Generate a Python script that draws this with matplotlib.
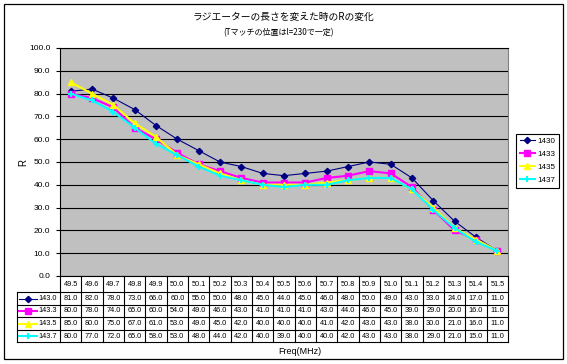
import matplotlib
matplotlib.use("Agg")
import matplotlib.pyplot as plt
from matplotlib.lines import Line2D
from matplotlib.patches import Rectangle
import matplotlib.transforms as mtransforms

plt.rcParams['font.family'] = ['Liberation Sans', 'Noto Sans CJK JP', 'DejaVu Sans']

freqs = ["49.5", "49.6", "49.7", "49.8", "49.9", "50.0", "50.1", "50.2", "50.3", "50.4", "50.5",
         "50.6", "50.7", "50.8", "50.9", "51.0", "51.1", "51.2", "51.3", "51.4", "51.5"]
legend_names = ["1430", "1433", "1435", "1437"]
row_names = ["143.0", "143.3", "143.5", "143.7"]
r_1430 = [81, 82, 78, 73, 66, 60, 55, 50, 48, 45, 44, 45, 46, 48, 50, 49, 43, 33, 24, 17, 11]
r_1433 = [80, 78, 74, 65, 60, 54, 49, 46, 43, 41, 41, 41, 43, 44, 46, 45, 39, 29, 20, 16, 11]
r_1435 = [85, 80, 75, 67, 61, 53, 49, 45, 42, 40, 40, 40, 41, 42, 43, 43, 38, 30, 21, 16, 11]
r_1437 = [80, 77, 72, 65, 58, 53, 48, 44, 42, 40, 39, 40, 40, 42, 43, 43, 38, 29, 21, 15, 11]
series = [r_1430, r_1433, r_1435, r_1437]
colors = ["#000080", "#ff00ff", "#ffff00", "#00ffff"]
markers = ["D", "s", "^", "+"]
msizes = [3.2, 3.8, 4.6, 4.6]
lws = [0.8, 1.5, 1.5, 1.5]

W, H = 567, 364
fig = plt.figure(figsize=(W / 100, H / 100), dpi=100)

def fx(px):
    return px / W

def fy(py):
    return 1 - py / H

# outer border
fig.add_artist(Rectangle((fx(4), fy(359)), fx(559), (355) / H, fill=False,
                         edgecolor="black", linewidth=0.9, transform=fig.transFigure))

L, R, T, B = 60, 508, 48, 276
ax = fig.add_axes([fx(L), fy(B), fx(R - L), (B - T) / H])
ax.set_facecolor("#c0c0c0")
x = list(range(len(freqs)))
for s, c, m, ms, lw, name in zip(series, colors, markers, msizes, lws, legend_names):
    ax.plot(x, s, color=c, marker=m, markersize=ms, linewidth=lw, label=name,
            markeredgewidth=1.0 if m != "+" else 1.5, clip_on=False)
ax.set_xlim(-0.5, len(freqs) - 0.5)
ax.set_ylim(0, 100)
ax.set_yticks(range(0, 101, 10))
ax.set_yticklabels([f"{v:.1f}" for v in range(0, 101, 10)], fontsize=6)
ax.tick_params(axis="y", length=3, width=0.8, pad=4)
ax.set_xticks([])
ax.grid(axis="y", color="black", linewidth=0.8)
ax.set_axisbelow(True)
for side in ["left", "bottom", "top"]:
    ax.spines[side].set_color("black")
    ax.spines[side].set_linewidth(0.8)
ax.spines["right"].set_color("#808080")
ax.spines["right"].set_linewidth(0.8)

ax.set_ylabel("R", fontsize=7, labelpad=8)
ax.yaxis.set_label_coords(-(L - 28) / (R - L), 0.5)

# title
fig.text(fx(284), fy(17), "ラジエーターの長さを変えた時のRの変化", ha="center", va="center",
         fontsize=7, family=['Noto Sans CJK JP', 'DejaVu Sans'])
fig.text(fx(278), fy(33), "(Tマッチの位置はl=230で一定)", ha="center", va="center",
         fontsize=5.8, family=['Noto Sans CJK JP', 'DejaVu Sans'])

# data table below axes
bt = mtransforms.blended_transform_factory(ax.transData, ax.transAxes)
ah = B - T

def ay(py):
    return (B - py) / ah

row_edges = [276, 292, 305, 317, 330, 342]
lc = "black"
lwt = 0.8
# horizontal lines
ax.add_line(Line2D([-0.5, len(freqs) - 0.5], [ay(292), ay(292)], transform=bt, color=lc,
                   linewidth=lwt, clip_on=False))
for ye in row_edges[2:]:
    ax.add_line(Line2D([-0.5, len(freqs) - 0.5], [ay(ye), ay(ye)], transform=bt, color=lc,
                       linewidth=lwt, clip_on=False))
# vertical lines
for i in range(len(freqs) + 1):
    ax.add_line(Line2D([i - 0.5, i - 0.5], [ay(276), ay(342)], transform=bt, color=lc,
                       linewidth=lwt, clip_on=False))
# header column box
fig.add_artist(Line2D([fx(17), fx(L)], [fy(292), fy(292)], color=lc, linewidth=lwt))
for ye in row_edges[2:]:
    fig.add_artist(Line2D([fx(17), fx(L)], [fy(ye), fy(ye)], color=lc, linewidth=lwt))
fig.add_artist(Line2D([fx(17), fx(17)], [fy(292), fy(342)], color=lc, linewidth=lwt))

for i, f in enumerate(freqs):
    ax.text(i, ay(284.5), f, transform=bt, ha="center", va="center", fontsize=5.3, clip_on=False)
for r, s in enumerate(series):
    yc = (row_edges[r + 1] + row_edges[r + 2]) / 2
    for i, v in enumerate(s):
        ax.text(i, ay(yc), f"{v:.1f}", transform=bt, ha="center", va="center", fontsize=5.3,
                clip_on=False)
    fig.add_artist(Line2D([fx(19), fx(37)], [fy(yc), fy(yc)], color=colors[r], linewidth=lws[r],
                          marker=None))
    fig.add_artist(Line2D([fx(28)], [fy(yc)], color=colors[r], marker=markers[r],
                          markersize=msizes[r], markeredgewidth=1.0 if markers[r] != "+" else 1.5,
                          linestyle="none"))
    fig.text(fx(48), fy(yc), row_names[r], ha="center", va="center", fontsize=5.3)

fig.text(fx(300), fy(351), "Freq(MHz)", ha="center", va="center", fontsize=6.5)

# legend
handles = [Line2D([], [], color=c, marker=m, markersize=ms, linewidth=lw,
                  markeredgewidth=1.0 if m != "+" else 1.5)
           for c, m, ms, lw in zip(colors, markers, msizes, lws)]
leg = fig.legend(handles, legend_names, loc="upper left",
                 bbox_to_anchor=(fx(516), fy(134)), fontsize=5.8, frameon=True,
                 fancybox=False, edgecolor="black", framealpha=1, handlelength=1.9,
                 handletextpad=0.3, borderpad=0.45, borderaxespad=0, labelspacing=0.65)
leg.get_frame().set_linewidth(0.8)

fig.savefig("out.png", dpi=100)
